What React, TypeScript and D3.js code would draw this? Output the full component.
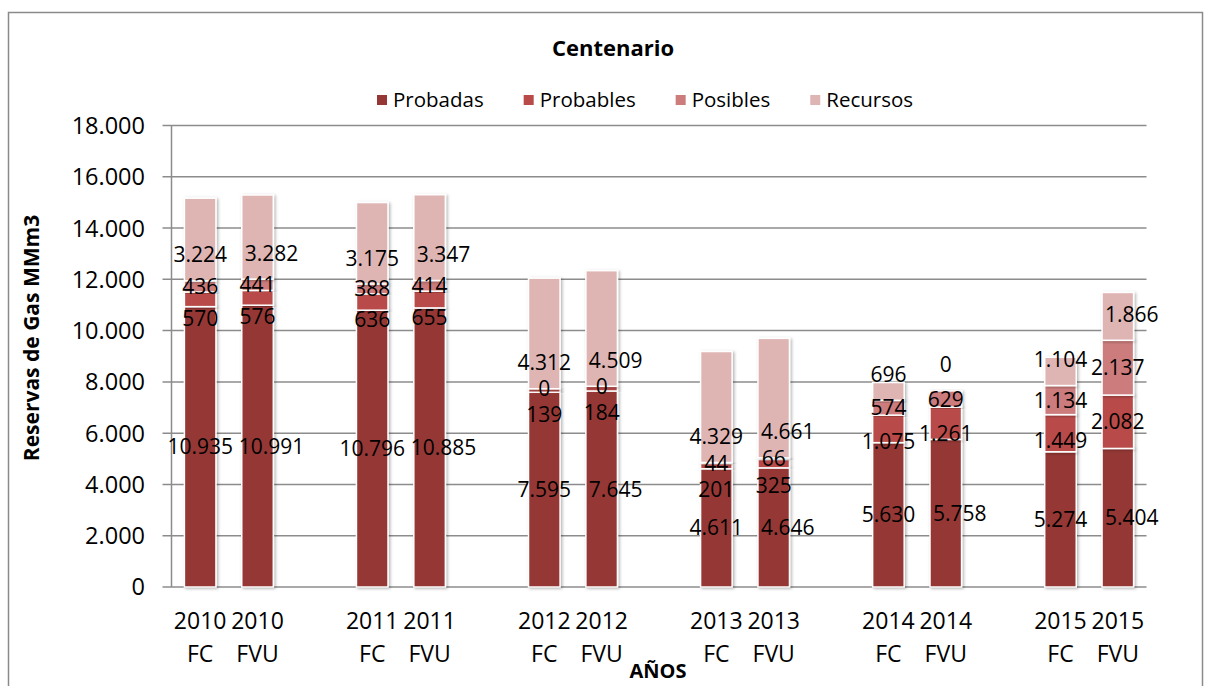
import React, { useEffect, useRef } from "react";
import * as d3 from "d3";

const years = ["2010", "2011", "2012", "2013", "2014", "2015"];
const versions = ["FC", "FVU"];
const seriesNames = ["Probadas", "Probables", "Posibles", "Recursos"];
const seriesColors = ["#953735", "#B84B48", "#CC7C7B", "#DFB5B4"];

// values per bar, order: 2010 FC, 2010 FVU, 2011 FC, 2011 FVU, ...
const probadas = [10935, 10991, 10796, 10885, 7595, 7645, 4611, 4646, 5630, 5758, 5274, 5404];
const probables = [570, 576, 636, 655, 139, 184, 201, 325, 1075, 1261, 1449, 2082];
const posibles = [436, 441, 388, 414, 0, 0, 44, 66, 574, 629, 1134, 2137];
const recursos = [3224, 3282, 3175, 3347, 4312, 4509, 4329, 4661, 696, 0, 1104, 1866];

const yTicks = [0, 2000, 4000, 6000, 8000, 10000, 12000, 14000, 16000, 18000];

const title = "Centenario";
const yTitle = "Reservas de Gas MMm3";
const xTitle = "AÑOS";

const W = 1206;
const H = 686;
const FONT = "'Open Sans', Lato, sans-serif";

export default function App() {
  const ref = useRef<SVGSVGElement | null>(null);

  useEffect(() => {
    const svg = d3.select(ref.current);
    svg.selectAll("*").remove();

    const fmt = d3.formatLocale({ decimal: ",", thousands: ".", grouping: [3], currency: ["$", ""] }).format(",d");

    // categories with blank spacers between years
    const cats: { key: string; year: string; ver: string }[] = [];
    years.forEach((y, i) => {
      versions.forEach((v) => cats.push({ key: `${y} ${v}`, year: y, ver: v }));
      if (i < years.length - 1) cats.push({ key: `gap${i}`, year: "", ver: "" });
    });
    const barKeys = years.flatMap((y) => versions.map((v) => `${y} ${v}`));

    const plotL = 171.5, plotR = 1146.5, plotT = 125.5, plotB = 587;
    const x = d3.scaleBand<string>().domain(cats.map((c) => c.key)).range([plotL, plotR]).paddingInner(0.45).paddingOuter(0.225);
    const y = d3.scaleLinear().domain([0, 18000]).range([plotB, plotT]);

    const defs = svg.append("defs");
    const f = defs.append("filter").attr("id", "sh").attr("x", "-30%").attr("y", "-10%").attr("width", "160%").attr("height", "120%");
    f.append("feDropShadow").attr("dx", 1.5).attr("dy", 1).attr("stdDeviation", 1.5).attr("flood-color", "#000").attr("flood-opacity", 0.3);

    svg.append("rect").attr("x", 0).attr("y", 0).attr("width", W).attr("height", H).attr("fill", "#fff");
    svg.append("rect").attr("x", 8.5).attr("y", 12.5).attr("width", 1194).attr("height", 700)
      .attr("fill", "none").attr("stroke", "#8a8a8a").attr("stroke-width", 1.5);

    // gridlines
    const g = svg.append("g");
    g.selectAll("line.grid").data(yTicks).join("line")
      .attr("x1", plotL - 9).attr("x2", plotR)
      .attr("y1", (d) => y(d)).attr("y2", (d) => y(d))
      .attr("stroke", "#8c8c8c").attr("stroke-width", 1.5);
    g.append("line").attr("x1", plotL).attr("x2", plotL).attr("y1", plotT).attr("y2", plotB)
      .attr("stroke", "#8c8c8c").attr("stroke-width", 1.5);

    g.selectAll("text.yt").data(yTicks).join("text")
      .attr("x", 145).attr("y", (d) => y(d)).attr("dy", "0.36em")
      .attr("text-anchor", "end").attr("font-family", FONT).attr("font-size", 23.5).attr("fill", "#000")
      .text((d) => fmt(d));

    // stacks
    const rows = barKeys.map((k, i) => ({ key: k, Probadas: probadas[i], Probables: probables[i], Posibles: posibles[i], Recursos: recursos[i] }));
    const stack = d3.stack<any>().keys(seriesNames)(rows);

    const bars = svg.append("g");
    stack.forEach((layer, si) => {
      bars.append("g").selectAll("rect").data(layer).join("rect")
        .attr("x", (d: any) => x(d.data.key)!)
        .attr("width", x.bandwidth())
        .attr("y", (d: any) => y(d[1]))
        .attr("height", (d: any) => Math.max(0, y(d[0]) - y(d[1])))
        .attr("fill", seriesColors[si])
        .attr("stroke", "#fff").attr("stroke-width", 1.5)
        .attr("filter", "url(#sh)");
    });

    const labels = svg.append("g");
    stack.forEach((layer, si) => {
      labels.append("g").selectAll("text").data(layer).join("text")
        .attr("x", (d: any) => {
          const cx = x(d.data.key)! + x.bandwidth() / 2;
          const v = d[1] - d[0];
          const isFVU = d.data.key.endsWith("FVU");
          // Excel nudged the wide labels of the second bar to the right
          if (isFVU && (si === 0 || si === 3) && v >= 1000) return cx + 14;
          return cx;
        })
        .attr("y", (d: any) => {
          if (si === 1) return y(d[1]) + 26;
          if (si === 3) return y(d[0]) - 26;
          return (y(d[0]) + y(d[1])) / 2;
        })
        .attr("dy", "0.36em")
        .attr("text-anchor", "middle").attr("font-family", FONT).attr("font-size", 21).attr("fill", "#000")
        .text((d: any) => fmt(d[1] - d[0]));
    });

    // x axis labels
    const xl = svg.append("g");
    cats.filter((c) => c.year).forEach((c) => {
      const cx = x(c.key)! + x.bandwidth() / 2;
      xl.append("text").attr("x", cx).attr("y", 621)
        .attr("dy", "0.36em").attr("text-anchor", "middle").attr("font-family", FONT).attr("font-size", 23).text(c.year);
      xl.append("text").attr("x", cx).attr("y", 653.5)
        .attr("dy", "0.36em").attr("text-anchor", "middle").attr("font-family", FONT).attr("font-size", 23).text(c.ver);
    });
    xl.append("text").attr("x", 658).attr("y", 670.5)
      .attr("dy", "0.36em").attr("text-anchor", "middle").attr("font-family", FONT).attr("font-weight", "bold").attr("font-size", 20).text(xTitle);

    // titles
    svg.append("text").attr("x", 613).attr("y", 48).attr("dy", "0.36em").attr("text-anchor", "middle")
      .attr("font-family", FONT).attr("font-weight", "bold").attr("font-size", 22).text(title);
    svg.append("text").attr("transform", `translate(31,338) rotate(-90)`).attr("dy", "0.36em").attr("text-anchor", "middle")
      .attr("font-family", FONT).attr("font-weight", "bold").attr("font-size", 21).text(yTitle);

    // legend
    const lg = svg.append("g");
    let lx = 377;
    seriesNames.forEach((n, i) => {
      lg.append("rect").attr("x", lx).attr("y", 95).attr("width", 10).attr("height", 10).attr("fill", seriesColors[i]);
      const t = lg.append("text").attr("x", lx + 16).attr("y", 100).attr("dy", "0.36em")
        .attr("font-family", FONT).attr("font-size", 20.5).text(n);
      const w = (t.node() as SVGTextElement).getComputedTextLength();
      lx += 16 + w + 40;
    });
  }, []);

  return (
    <svg ref={ref} width={W} height={H} style={{ position: "absolute", left: 0, top: 0, display: "block" }} />
  );
}
